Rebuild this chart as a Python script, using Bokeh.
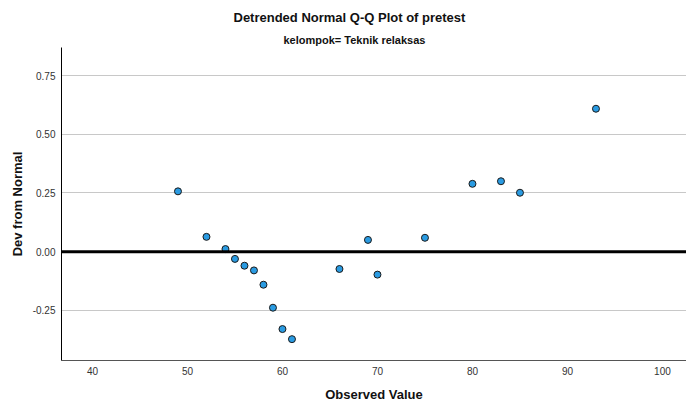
from bokeh.plotting import figure
from bokeh.models import Range1d, Span, Title, FixedTicker, NumeralTickFormatter, ColumnDataSource
from bokeh.embed import file_html
from bokeh.resources import INLINE

# Data
observed = [49, 52, 54, 55, 56, 57, 58, 59, 60, 61, 66, 69, 70, 75, 80, 83, 85, 93]
dev_from_normal = [0.257, 0.063, 0.011, -0.031, -0.060, -0.080, -0.141, -0.239, -0.330,
                   -0.373, -0.074, 0.050, -0.098, 0.059, 0.289, 0.300, 0.251, 0.609]
x_ticks = [40, 50, 60, 70, 80, 90, 100]
y_ticks = [-0.25, 0.0, 0.25, 0.50, 0.75]

title_text = "Detrended Normal Q-Q Plot of pretest"
subtitle_text = "kelompok= Teknik relaksas"
x_label = "Observed Value"
y_label = "Dev from Normal"

FONT = "Liberation Sans"

p = figure(width=686, height=408, output_backend="svg", toolbar_location=None,
           x_range=Range1d(36.74, 102.53), y_range=Range1d(-0.464, 0.87),
           min_border_left=61, min_border_right=0, min_border_top=47, min_border_bottom=48,
           background_fill_color="white", border_fill_color="white")
p.outline_line_color = None

p.add_layout(Title(text=subtitle_text, align="left", text_font=FONT,
                   text_font_size="11px", text_font_style="bold", text_color="#111111",
                   standoff=3, offset=222), "above")
p.add_layout(Title(text=title_text, align="left", text_font=FONT,
                   text_font_size="13px", text_font_style="bold", text_color="#111111",
                   standoff=12, offset=172), "above")

# axes
p.xaxis.ticker = FixedTicker(ticks=x_ticks)
p.yaxis.ticker = FixedTicker(ticks=y_ticks)
p.yaxis.formatter = NumeralTickFormatter(format="0.00")
for ax in (p.xaxis[0], p.yaxis[0]):
    ax.major_tick_line_color = None
    ax.minor_tick_line_color = None
    ax.major_label_text_font = FONT
    ax.major_label_text_font_size = "10px"
    ax.major_label_text_color = "#333333"
    ax.axis_label_text_font = FONT
    ax.axis_label_text_font_size = "13px"
    ax.axis_label_text_font_style = "bold"
    ax.axis_label_text_color = "#111111"
p.xaxis.axis_label = x_label
p.yaxis.axis_label = y_label
p.xaxis.axis_line_color = "#555555"
p.yaxis.axis_line_color = "black"
p.xaxis.major_label_standoff = 0
p.yaxis.major_label_standoff = 0
p.xaxis.axis_label_standoff = 9
p.yaxis.axis_label_standoff = 5

p.xgrid.grid_line_color = None
p.ygrid.grid_line_color = "#c8c8c8"
p.ygrid.grid_line_width = 1

src = ColumnDataSource(dict(x=observed, y=dev_from_normal))
p.scatter("x", "y", source=src, size=7, fill_color="#2a9be2", line_color="#1a1a1a", line_width=1)

p.add_layout(Span(location=0, dimension="width", line_color="black", line_width=3))

open("out.html", "w").write(file_html(p, INLINE))
